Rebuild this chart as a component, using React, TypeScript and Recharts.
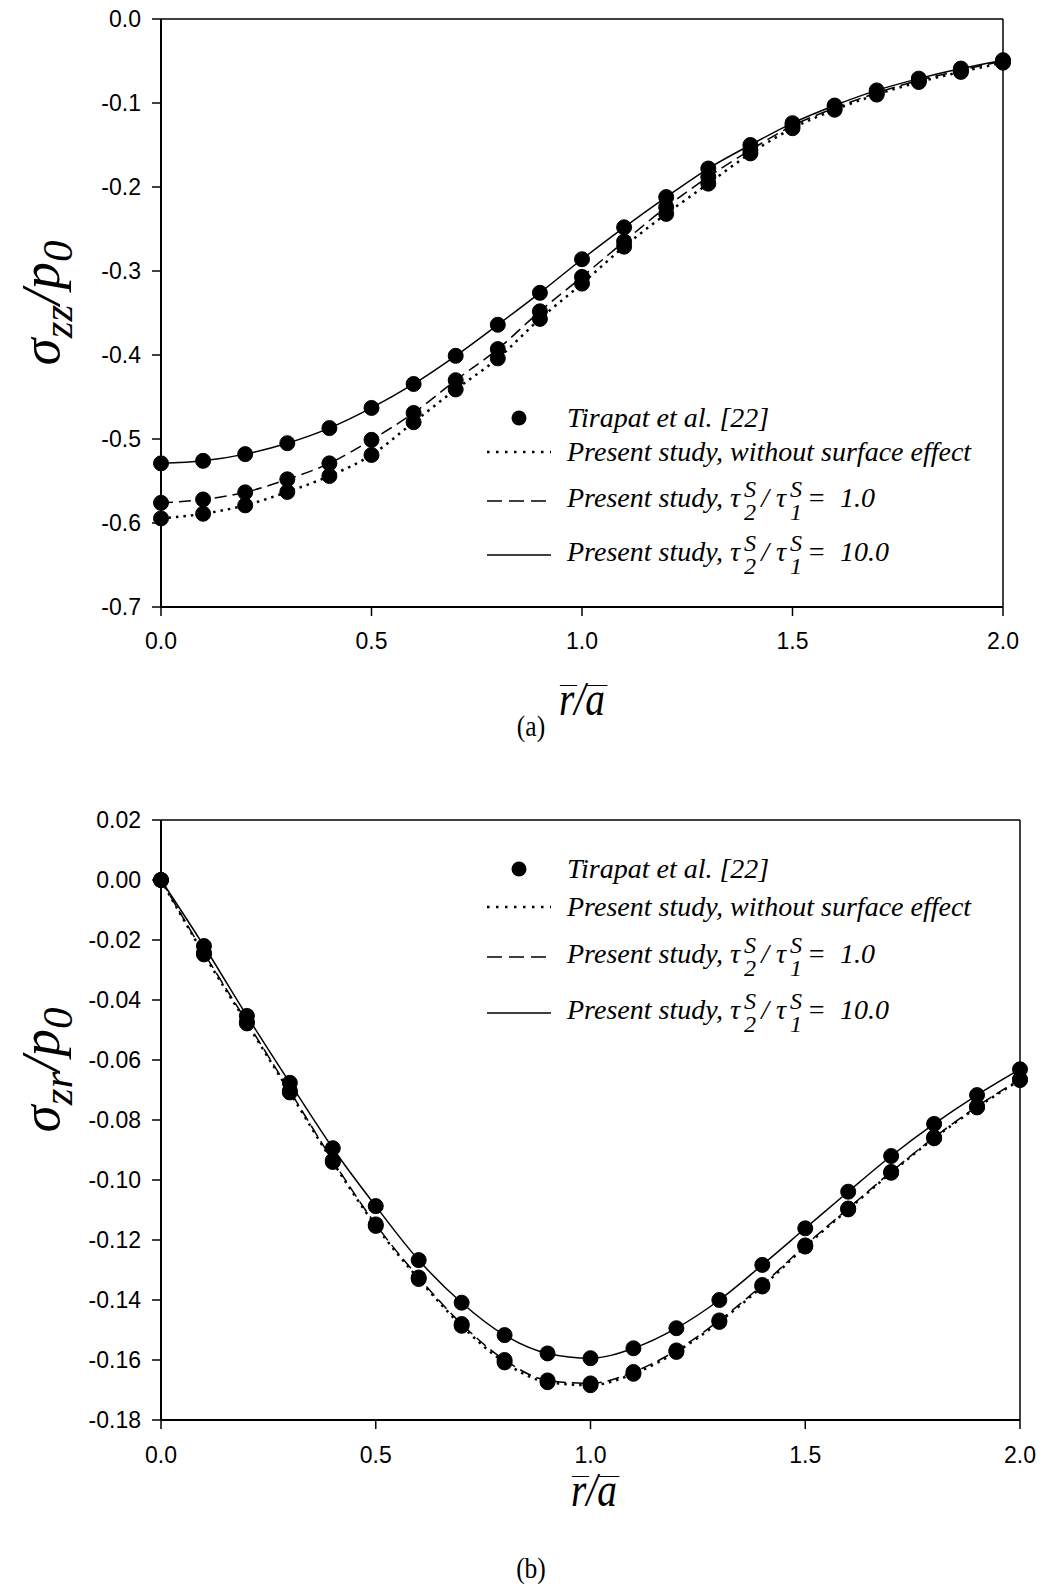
import { LineChart, Line, XAxis, YAxis, ReferenceLine } from 'recharts';

// normalised radial distance r/a
const rValues = [0, 0.1, 0.2, 0.3, 0.4, 0.5, 0.6, 0.7, 0.8, 0.9, 1.0, 1.1, 1.2, 1.3, 1.4, 1.5, 1.6, 1.7, 1.8, 1.9, 2.0];

// (a) sigma_zz / p0
const szzNoSurface = [-0.5945, -0.589, -0.579, -0.563, -0.544, -0.519, -0.48, -0.441, -0.404, -0.357, -0.315, -0.271, -0.232, -0.196, -0.16, -0.13, -0.108, -0.09, -0.075, -0.063, -0.052];
const szzTau1 = [-0.576, -0.572, -0.5635, -0.548, -0.529, -0.501, -0.469, -0.43, -0.393, -0.348, -0.307, -0.265, -0.224, -0.188, -0.156, -0.127, -0.106, -0.088, -0.073, -0.061, -0.05];
const szzTau10 = [-0.529, -0.526, -0.518, -0.505, -0.487, -0.463, -0.4345, -0.401, -0.364, -0.326, -0.286, -0.248, -0.212, -0.178, -0.15, -0.124, -0.103, -0.085, -0.071, -0.059, -0.049];

// (b) sigma_zr / p0
const szrNoSurface = [0, -0.0248, -0.0478, -0.0708, -0.094, -0.1153, -0.133, -0.1486, -0.1608, -0.1674, -0.1684, -0.1646, -0.1573, -0.1473, -0.1355, -0.1222, -0.1098, -0.0976, -0.0861, -0.0758, -0.0667];
const szrTau1 = [0, -0.0243, -0.0473, -0.0703, -0.0935, -0.1148, -0.1325, -0.148, -0.16, -0.1668, -0.1678, -0.164, -0.1568, -0.1468, -0.135, -0.1218, -0.1095, -0.0973, -0.0858, -0.0755, -0.0664];
const szrTau10 = [0, -0.022, -0.0453, -0.0676, -0.0894, -0.1087, -0.1267, -0.1409, -0.1517, -0.1578, -0.1594, -0.1561, -0.1494, -0.14, -0.1283, -0.1161, -0.1039, -0.092, -0.0813, -0.0717, -0.0631];

const xTicks = [0, 0.5, 1.0, 1.5, 2.0];
const szzTicks = [0, -0.1, -0.2, -0.3, -0.4, -0.5, -0.6, -0.7];
const szrTicks = [0.02, 0, -0.02, -0.04, -0.06, -0.08, -0.1, -0.12, -0.14, -0.16, -0.18];

const AXIS_FONT = 'Arial, "Liberation Sans", sans-serif';
const SERIF = '"Times New Roman", "Liberation Serif", serif';

const buildRows = (a: number[], b: number[], c: number[]) =>
  rValues.map((r, i) => ({ r, noSurf: a[i], tau1: b[i], tau10: c[i] }));

const szzData = buildRows(szzNoSurface, szzTau1, szzTau10);
const szrData = buildRows(szrNoSurface, szrTau1, szrTau10);

const series = [
  { key: 'noSurf', dash: '2.5 5', width: 2.5 },
  { key: 'tau1', dash: '12 6', width: 1.5 },
  { key: 'tau10', dash: undefined, width: 1.5 },
];

const dotStyle = { r: 7.5, fill: '#000', stroke: '#000', strokeWidth: 1, strokeDasharray: '0' };

type PanelProps = {
  data: any[];
  top: number;
  height: number;
  margin: { top: number; right: number; left: number; bottom: number };
  xAxisHeight: number;
  xTickMargin: number;
  yDomain: [number, number];
  yTicks: number[];
  digits: number;
};

const StressPanel = ({ data, top, height, margin, xAxisHeight, xTickMargin, yDomain, yTicks, digits }: PanelProps) => (
  <div style={{ position: 'absolute', left: 0, top }}>
    <LineChart width={1043} height={height} data={data} margin={margin}>
      <XAxis
        type="number"
        dataKey="r"
        domain={[0, 2]}
        ticks={xTicks}
        interval={0}
        tickFormatter={(v: number) => v.toFixed(1)}
        height={xAxisHeight}
        axisLine={{ stroke: '#000', strokeWidth: 2 }}
        tickLine={{ stroke: '#000', strokeWidth: 1.5 }}
        tickSize={9}
        tickMargin={xTickMargin}
        tick={{ fill: '#000', fontSize: 23, fontFamily: AXIS_FONT }}
      />
      <YAxis
        type="number"
        domain={yDomain}
        ticks={yTicks}
        interval={0}
        width={161}
        tickFormatter={(v: number) => v.toFixed(digits)}
        axisLine={{ stroke: '#000', strokeWidth: 2 }}
        tickLine={{ stroke: '#000', strokeWidth: 1.5 }}
        tickSize={9}
        tickMargin={11}
        tick={{ fill: '#000', fontSize: 23, fontFamily: AXIS_FONT }}
      />
      <ReferenceLine y={yDomain[1]} stroke="#000" strokeWidth={1.5} />
      <ReferenceLine x={2} stroke="#000" strokeWidth={1.5} />
      {series.map((s) => (
        <Line
          key={s.key}
          type="monotone"
          dataKey={s.key}
          stroke="#000"
          strokeWidth={s.width}
          strokeDasharray={s.dash}
          dot={dotStyle}
          activeDot={false}
          isAnimationActive={false}
        />
      ))}
    </LineChart>
  </div>
);

const Sub = ({ children }: { children: any }) => (
  <span style={{ fontSize: '0.78em', position: 'relative', top: '0.3em' }}>{children}</span>
);

const SupSub = ({ sup, sub }: { sup: string; sub: string }) => (
  <span
    style={{
      display: 'inline-flex',
      flexDirection: 'column',
      verticalAlign: 'middle',
      fontSize: '0.86em',
      lineHeight: 0.95,
      margin: '0 5px 0 4px',
    }}
  >
    <span>{sup}</span>
    <span>{sub}</span>
  </span>
);

// bar drawn over a letter; offset tuned for line-height 0.75
const Overlined = ({ children }: { children: any }) => (
  <span style={{ position: 'relative', display: 'inline-block' }}>
    {children}
    <span
      style={{
        position: 'absolute',
        left: '0.02em',
        right: '-0.06em',
        top: '0.075em',
        borderTop: '1.5px solid #000',
      }}
    />
  </span>
);

const LegendRow = ({ y, symbol, children }: { y: number; symbol: string; children: any }) => (
  <div style={{ position: 'absolute', left: 0, top: y - 25, height: 50, width: 1043 }}>
    <svg width={70} height={50} style={{ position: 'absolute', left: 485, top: 0 }}>
      {symbol === 'dot' && <circle cx={34} cy={25} r={7.5} fill="#000" />}
      {symbol === 'dotted' && (
        <line x1={2} y1={25} x2={66} y2={25} stroke="#000" strokeWidth={2.5} strokeDasharray="2.5 6.5" />
      )}
      {symbol === 'dashed' && (
        <line x1={2} y1={25} x2={66} y2={25} stroke="#000" strokeWidth={1.5} strokeDasharray="15 7" />
      )}
      {symbol === 'solid' && <line x1={2} y1={25} x2={66} y2={25} stroke="#000" strokeWidth={1.5} />}
    </svg>
    <div
      style={{
        position: 'absolute',
        left: 567,
        top: 0,
        height: 50,
        display: 'flex',
        alignItems: 'center',
        fontFamily: SERIF,
        fontStyle: 'italic',
        fontSize: 28,
        whiteSpace: 'nowrap',
        color: '#000',
      }}
    >
      <span>{children}</span>
    </div>
  </div>
);

const Legend = ({ rows }: { rows: number[] }) => (
  <>
    <LegendRow y={rows[0]} symbol="dot">Tirapat et al. [22]</LegendRow>
    <LegendRow y={rows[1]} symbol="dotted">Present study, without surface effect</LegendRow>
    <LegendRow y={rows[2]} symbol="dashed">
      Present study, τ<SupSub sup="S" sub="2" />/&nbsp;τ<SupSub sup="S" sub="1" />=&nbsp;&nbsp;1.0
    </LegendRow>
    <LegendRow y={rows[3]} symbol="solid">
      Present study, τ<SupSub sup="S" sub="2" />/&nbsp;τ<SupSub sup="S" sub="1" />=&nbsp;&nbsp;10.0
    </LegendRow>
  </>
);

const YLabel = ({ cy, sub }: { cy: number; sub: string }) => (
  <div
    style={{
      position: 'absolute',
      left: 40,
      top: cy,
      transform: 'translate(-50%, -50%) rotate(-90deg)',
      fontFamily: SERIF,
      fontStyle: 'italic',
      fontSize: 55,
      whiteSpace: 'nowrap',
      color: '#000',
      lineHeight: 1,
    }}
  >
    σ<Sub>{sub}</Sub>/p<Sub>0</Sub>
  </div>
);

const XLabel = ({ cx, cy }: { cx: number; cy: number }) => (
  <div
    style={{
      position: 'absolute',
      left: cx,
      top: cy,
      transform: 'translate(-50%, -50%) scaleX(0.82)',
      fontFamily: SERIF,
      fontStyle: 'italic',
      fontSize: 48,
      whiteSpace: 'nowrap',
      color: '#000',
      lineHeight: 0.75,
    }}
  >
    <Overlined>r</Overlined>/<Overlined>a</Overlined>
  </div>
);

const Caption = ({ cy, text }: { cy: number; text: string }) => (
  <div
    style={{
      position: 'absolute',
      left: 531,
      top: cy,
      transform: 'translate(-50%, -50%) scaleX(0.85)',
      fontFamily: SERIF,
      fontSize: 30,
      color: '#000',
      lineHeight: 1,
    }}
  >
    {text}
  </div>
);

export default function App() {
  return (
    <div style={{ position: 'absolute', left: 0, top: 0, width: 1043, height: 1586, background: '#fff', overflow: 'hidden' }}>
      <StressPanel
        data={szzData}
        top={0}
        height={680}
        margin={{ top: 19, right: 40, left: 0, bottom: 0 }}
        xAxisHeight={73}
        xTickMargin={17}
        yDomain={[-0.7, 0]}
        yTicks={szzTicks}
        digits={1}
      />
      <YLabel cy={303} sub="zz" />
      <XLabel cx={582} cy={699} />
      <Caption cy={726} text="(a)" />
      <Legend rows={[418, 452, 501, 555]} />

      <StressPanel
        data={szrData}
        top={780}
        height={700}
        margin={{ top: 40, right: 23, left: 0, bottom: 0 }}
        xAxisHeight={60}
        xTickMargin={18}
        yDomain={[-0.18, 0.02]}
        yTicks={szrTicks}
        digits={2}
      />
      <YLabel cy={1070} sub="zr" />
      <XLabel cx={594} cy={1490} />
      <Caption cy={1568} text="(b)" />
      <Legend rows={[869, 907, 957, 1013]} />
    </div>
  );
}
